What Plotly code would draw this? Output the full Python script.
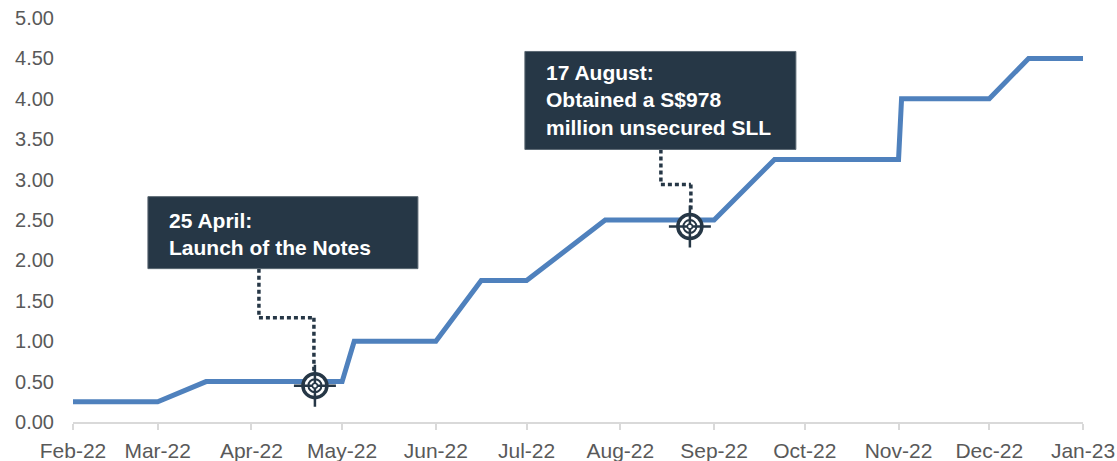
import plotly.graph_objects as go

# ---- data ----
rate_dates = ["2022-02-01", "2022-03-01", "2022-03-17", "2022-05-01", "2022-05-05",
              "2022-06-01", "2022-06-16", "2022-07-01", "2022-07-27", "2022-09-01",
              "2022-09-21", "2022-11-01", "2022-11-02", "2022-12-01", "2022-12-14",
              "2023-01-01"]
rate_values = [0.25, 0.25, 0.50, 0.50, 1.00,
               1.00, 1.75, 1.75, 2.50, 2.50,
               3.25, 3.25, 4.00, 4.00, 4.50,
               4.50]

event_dates = ["2022-04-22", "2022-08-24"]
event_values = [0.45, 2.42]
event_labels = ["25 April:<br>Launch of the Notes",
                "17 August:<br>Obtained a S$978<br>million unsecured SLL"]

y_ticks = [0, 0.5, 1, 1.5, 2, 2.5, 3, 3.5, 4, 4.5, 5]

# ---- styles ----
LINE_BLUE = "#4F81BD"
DARK = "#263746"
GREY_TXT = "#595959"
FONT = "Liberation Sans, Arial, sans-serif"

# box / connector geometry in pixels relative to each event marker (x right, y up)
box_geom = [dict(x0=-167, x1=103, y0=117, y1=189),
            dict(x0=-165, x1=106, y0=77, y1=175)]
conn_geom = [dict(xv=-56, yel=68, xe=-1, ye=14),
             dict(xv=-29, yel=42, xe=1, ye=14)]
text_geom = [dict(dx=-148, dy=152), dict(dx=-146, dy=126)]

fig = go.Figure()
fig.add_trace(go.Scatter(x=rate_dates, y=rate_values, mode="lines",
                         line=dict(color=LINE_BLUE, width=5), hoverinfo="skip",
                         showlegend=False))

# target icons
fig.add_trace(go.Scatter(x=event_dates, y=event_values, mode="markers", showlegend=False,
                         hoverinfo="skip",
                         marker=dict(symbol="circle", size=24, color="white",
                                     line=dict(color=DARK, width=3.5))))
fig.add_trace(go.Scatter(x=event_dates, y=event_values, mode="markers", showlegend=False,
                         hoverinfo="skip",
                         marker=dict(symbol="circle-open", size=13, color=DARK,
                                     line=dict(color=DARK, width=2))))
fig.add_trace(go.Scatter(x=event_dates, y=event_values, mode="markers", showlegend=False,
                         hoverinfo="skip",
                         marker=dict(symbol="cross-thin-open", size=30, color=DARK,
                                     line=dict(color=DARK, width=2.5))))
fig.add_trace(go.Scatter(x=event_dates, y=event_values, mode="markers", showlegend=False,
                         hoverinfo="skip",
                         marker=dict(symbol="circle", size=5, color="white",
                                     line=dict(color=DARK, width=1.5))))

shapes = []
annotations = []
for d, v, lab, bg, cg, tg in zip(event_dates, event_values, event_labels,
                                 box_geom, conn_geom, text_geom):
    common = dict(xref="x", yref="y", xsizemode="pixel", ysizemode="pixel",
                  xanchor=d, yanchor=v)
    shapes.append(dict(type="rect", x0=bg["x0"], x1=bg["x1"], y0=bg["y0"], y1=bg["y1"],
                       fillcolor=DARK, line=dict(color="#5b6873", width=1), layer="above",
                       **common))
    dot = dict(color=DARK, width=3.5, dash="4px,3px")
    shapes.append(dict(type="line", x0=cg["xv"], x1=cg["xv"], y0=bg["y0"], y1=cg["yel"],
                       line=dot, layer="below", **common))
    shapes.append(dict(type="line", x0=cg["xv"], x1=cg["xe"], y0=cg["yel"], y1=cg["yel"],
                       line=dot, layer="below", **common))
    shapes.append(dict(type="line", x0=cg["xe"], x1=cg["xe"], y0=cg["yel"], y1=cg["ye"],
                       line=dot, layer="below", **common))
    annotations.append(dict(x=d, y=v, xref="x", yref="y",
                            text="<b>" + lab.replace("<br>", "</b><br><b>") + "</b>",
                            showarrow=False, xanchor="left", yanchor="middle", align="left",
                            xshift=tg["dx"], yshift=tg["dy"],
                            font=dict(family=FONT, size=21, color="white")))

fig.update_layout(
    width=1117, height=461, autosize=False,
    margin=dict(l=73, r=34, t=18, b=39, pad=0),
    paper_bgcolor="white", plot_bgcolor="white",
    shapes=shapes, annotations=annotations,
    font=dict(family=FONT, size=20, color=GREY_TXT),
    xaxis=dict(type="date", range=["2022-02-01", "2023-01-01"], dtick="M1",
               tick0="2022-02-01", tickformat="%b-%y", showgrid=False, zeroline=False,
               showline=True, linecolor="#d9d9d9", linewidth=1.5, automargin=False,
               ticks="outside", ticklen=6, tickcolor="#d9d9d9", tickwidth=1.5,
               ticklabelstandoff=3,
               tickfont=dict(family=FONT, size=21, color=GREY_TXT)),
    yaxis=dict(range=[0, 5], tickvals=y_ticks, tickformat=".2f", showgrid=False,
               zeroline=False, showline=False, ticks="", ticklabelstandoff=18,
               automargin=False,
               tickfont=dict(family=FONT, size=20, color=GREY_TXT)),
)

fig.write_html("out.html", config={"displayModeBar": False},
               post_script="document.body.style.margin='0';document.body.style.padding='0';")
